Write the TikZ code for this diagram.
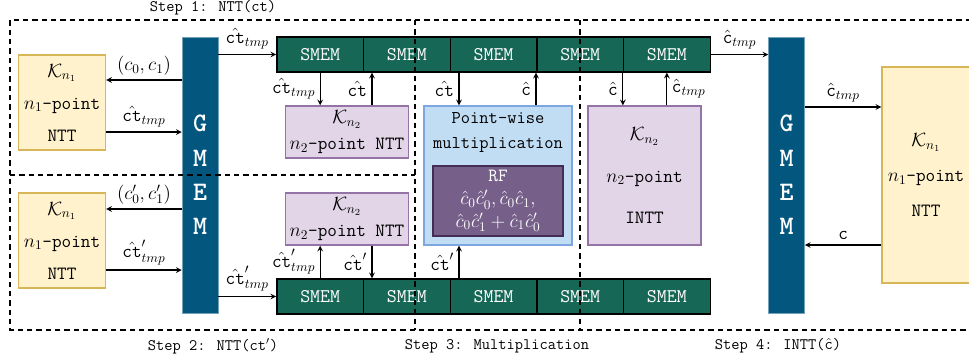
\documentclass[tikz,border=0pt]{standalone}
\usepackage{fontspec}
\usepackage{mathtools,amssymb}
\usepackage{tikz}
\usetikzlibrary{matrix,arrows}
\usetikzlibrary{calc}

\definecolor{nttfill}{HTML}{FFF2CC}
\definecolor{nttline}{HTML}{D6B656}
\definecolor{kfill}{HTML}{E1D5E7}
\definecolor{kline}{HTML}{9673A6}
\definecolor{pwfill}{HTML}{C1DDF4}
\definecolor{pwline}{HTML}{7EA6E0}
\definecolor{gmemcol}{HTML}{03577F}
\definecolor{smemcol}{HTML}{176756}
\definecolor{rffill}{HTML}{76608A}
\definecolor{rfline}{HTML}{432D57}

\newcommand{\cth}{\hat{\texttt{ct}}}
\newcommand{\chh}{\hat{\texttt{c}}}

\tikzset{
	stepline/.style={draw, line width=0.9pt, dash pattern=on 4pt off 3pt},
	steplabel/.style={font=\fontsize{12}{14}\selectfont\ttfamily},
	nttbox/.style={draw=nttline, fill=nttfill, line width=1pt, align=center, minimum width=65.25pt, minimum height=71.25pt},
	kbox/.style={draw=kline, fill=kfill, line width=1pt, align=center, minimum width=91.5pt, minimum height=39pt, font=\fontsize{14}{19}\selectfont},
	gmem/.style={fill=gmemcol, draw=gmemcol!55!white, line width=0.4pt, text=white, align=center, minimum width=27pt, minimum height=207pt, font=\fontsize{20}{25.7}\selectfont\ttfamily\bfseries},
	smem/.style={fill=smemcol, draw=black, line width=1pt, text=white, minimum width=65pt, minimum height=26.25pt, inner sep=0pt, font=\fontsize{14.5}{16}\selectfont\ttfamily},
	lbl/.style={font=\fontsize{14}{16}\selectfont},
}

\begin{document}
\begin{tikzpicture}[x=0.75pt, y=-0.75pt, font=\fontsize{14}{16}\selectfont]
	\useasboundingbox (0,0) rectangle (969,362);

	% global memories
	\node[gmem] (gm1) at (200,175) {G\\M\\E\\M};
	\node[gmem] (gm2) at (786.5,175) {G\\M\\E\\M};

	% outer NTT/INTT kernels
	\node[nttbox, font=\fontsize{14}{24}\selectfont] (n1a) at (62,102.5) {$\mathcal{K}_{n_1}$\\$n_1$\texttt{-point}\\\texttt{NTT}};
	\node[nttbox, font=\fontsize{14}{24}\selectfont] (n1b) at (62,240.5) {$\mathcal{K}_{n_1}$\\$n_1$\texttt{-point}\\\texttt{NTT}};
	\node[nttbox, minimum width=66pt, minimum height=162pt, font=\fontsize{14}{26}\selectfont] (n1c) at (926,175) {$\mathcal{K}_{n_1}$\\$n_1$\texttt{-point}\\\texttt{NTT}};

	% shared memory rows
	\matrix (top) [matrix of nodes, nodes={smem}, column sep=-1pt, inner sep=0pt] at (493.5,54.5)
	{
		SMEM & SMEM & SMEM & SMEM & SMEM \\
	};
	\matrix (bot) [matrix of nodes, nodes={smem}, column sep=-1pt, inner sep=0pt] at (493.5,296.5)
	{
		SMEM & SMEM & SMEM & SMEM & SMEM \\
	};

	% inner kernels
	\node[kbox] (k2a) at (347,132) {$\mathcal{K}_{n_2}$\\$n_2$\texttt{-point NTT}};
	\node[kbox] (k2b) at (347,219) {$\mathcal{K}_{n_2}$\\$n_2$\texttt{-point NTT}};
	\node[kbox, minimum width=84.75pt, minimum height=104.25pt, font=\fontsize{14}{31}\selectfont] (it) at (644.5,175.5) {$\mathcal{K}_{n_2}$\\$n_2$\texttt{-point}\\\texttt{INTT}};

	% point-wise multiplication
	\node[draw=pwline, fill=pwfill, line width=1pt, minimum width=111pt, minimum height=104.25pt] (pw) at (498,175.5) {};
	\node[align=center, font=\fontsize{13.5}{18.75}\selectfont\ttfamily] (pwt) at (498,132) {Point-wise\\multiplication};
	\node[draw=rfline, fill=rffill, line width=1pt, text=white, align=center, minimum width=97.5pt, minimum height=52.5pt, inner sep=1pt, font=\fontsize{14}{17}\selectfont] (rf) at (498,201)
	{\texttt{RF}\\$\hat{c}_0\hat{c}'_0, \hat{c}_0\hat{c}_1,$\\$\hat{c}_0\hat{c}'_1+\hat{c}_1\hat{c}'_0$};

	\coordinate (a3) at ($(pw.north)+(-39,0)$);
	\coordinate (b3) at ($(pw.north)+(38,0)$);
	\coordinate (c3) at ($(pw.south)+(-39,0)$);
	\coordinate (a1) at ($(k2a.north)+(25,0)$);
	\coordinate (a2) at ($(k2b.south)+(25,0)$);

	\path[->, >=stealth, line width=0.9pt, every node/.style={lbl}]
	(gm1.west |- 0,80) edge node [above] {$(c_0,c_1)$} (n1a.east |- 0,80)
	(n1a.east |- 0,132) edge node [above] {$\cth_{tmp}$} (gm1.west |- 0,132)
	(gm1.east |- top-1-1.west) edge node [above] {$\cth_{tmp}$} (top-1-1.west)
	(top-1-1.south) edge node [left] {$\cth_{tmp}$} (top-1-1.south |- k2a.north)
	(a1) edge node [left] {$\cth$} (a1 |- top-1-2.south)
	(gm1.west |- 0,209) edge node [above] {$(c'_0,c'_1)$} (n1b.east |- 0,209)
	(n1b.east |- 0,270) edge node [above] {$\cth'_{tmp}$} (gm1.west |- 0,270)
	(gm1.east |- bot-1-1.west) edge node [above] {$\cth'_{tmp}$} (bot-1-1.west)
	(bot-1-1.north) edge node [left] {$\cth'_{tmp}$} (bot-1-1.north |- k2b.south)
	(a2) edge node [left] {$\cth'$} (a2 |- bot-1-2.north)
	(a3 |- top-1-3.south) edge node [left] {$\cth$} (a3)
	(b3) edge node [left] {$\chh$} (b3 |- top-1-3.south)
	(c3 |- bot-1-3.north) edge node [left] {$\cth'$} (c3)
	(top-1-5.south west) edge node [left] {$\chh$} (top-1-5.south west |- it.north)
	(top-1-5.south |- it.north) edge node [right] {$\chh_{tmp}$} (top-1-5.south)
	(top-1-5.east) edge node [above] {$\chh_{tmp}$} (gm2.west |- top-1-5.east)
	(gm2.east |- 0,107) edge node [above] {$\chh_{tmp}$} (n1c.west |- 0,107)
	(n1c.west |- 0,245) edge node [above] {\texttt{c}} (gm2.east |- 0,245)
	;

	% step frames, drawn over the memories
	\coordinate (f1) at (10,20);
	\coordinate (f2) at (975,20);
	\coordinate (f3) at (975,330);
	\coordinate (f4) at (10,330);
	\draw[stepline] (f3) -- (f4) -- (f1) -- (f2);
	\draw[stepline] (f1 |- 0,175) -- (415,175);
	\draw[stepline] (f1 -| 415,0) -- (f4 -| 415,0);
	\draw[stepline] (f1 -| 580,0) -- (f4 -| 580,0);
	\node[steplabel] (st1) at (213,8) {Step 1: NTT(ct)};
	\node[steplabel] (st2) at (213,346) {Step 2: NTT(ct$'$)};
	\node[steplabel] (st3) at (497,346) {Step 3: Multiplication};
	\node[steplabel] (st4) at (778,346) {Step 4: INTT($\hat{\texttt{c}}$)};
\end{tikzpicture}
\end{document}
